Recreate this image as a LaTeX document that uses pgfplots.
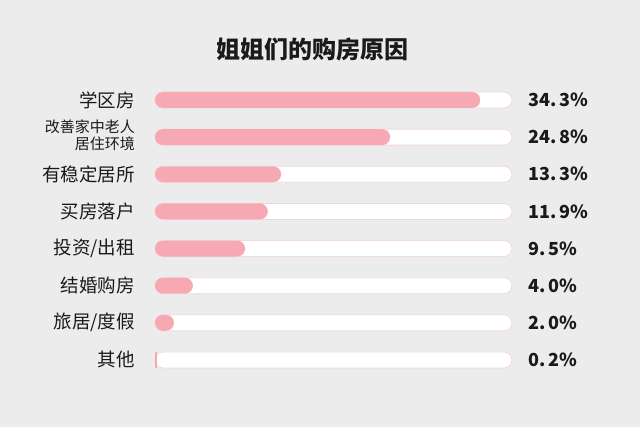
\documentclass[border=0pt]{standalone}
\usepackage{pgfplots}
\pgfplotsset{compat=1.18}
\usepackage{fontspec}
\setmainfont{Noto Sans CJK SC}
\definecolor{bg}{HTML}{EDECEC}
\definecolor{barpink}{HTML}{F6A9B3}
\definecolor{trackedge}{HTML}{F2D8DB}
\definecolor{txt}{HTML}{1A1A1A}
\newcommand{\lab}[1]{\fontsize{18.5}{20}\selectfont #1}
\newcommand{\twolab}{\fontsize{15}{16.5}\selectfont\begin{tabular}{@{}r@{}}改善家中老人\\ 居住环境\end{tabular}}
\begin{document}
\begin{tikzpicture}[x=1pt,y=1pt]
\fill[bg] (0,0) rectangle (640,-427);
\node[font=\fontsize{24}{26}\selectfont\bfseries, text=txt] at (312,-50) {姐姐们的购房原因};
\begin{axis}[
  at={(155pt,-81.43pt)}, anchor=north west,
  scale only axis, width=357pt, height=297.1pt,
  xmin=0, xmax=37.65, ymin=-0.5, ymax=7.5, y dir=reverse,
  axis line style={draw=none}, major tick length=0pt,
  xtick=\empty, ytick={0,1,2,3,4,5,6,7},
  yticklabels={{\lab{学区房}},{\twolab},{\lab{有稳定居所}},{\lab{买房落户}},{\lab{投资/出租}},{\lab{结婚购房}},{\lab{旅居/度假}},{\lab{其他}}},
  yticklabel style={anchor=east, inner sep=0pt, xshift=-20pt, text=txt},
  clip=false,
]
% white tracks
\addplot[xbar, bar shift=0pt, bar width=16pt, fill=white, draw=trackedge, line width=0.8pt, rounded corners=8pt]
  coordinates {(37.65,0) (37.65,1) (37.65,2) (37.65,3) (37.65,4) (37.65,5) (37.65,6) (37.65,7)};
% pink bars
\addplot[xbar, bar shift=0pt, bar width=16pt, fill=barpink, draw=none, rounded corners=8pt]
  coordinates {(34.3,0) (24.8,1) (13.3,2) (11.9,3) (9.5,4) (4.0,5) (2.0,6)};
\addplot[xbar, bar shift=0pt, bar width=16pt, fill=barpink, draw=none]
  coordinates {(0.2,7)};
% value labels
\addplot[draw=none, mark=none, point meta=explicit symbolic,
  nodes near coords={\pgfplotspointmeta\%},
  every node near coord/.append style={anchor=west, inner sep=0pt, text=txt, font=\fontsize{18}{20}\selectfont\bfseries}]
  coordinates {(39.34,0) [34.\kern3pt 3] (39.34,1) [24.\kern3pt 8] (39.34,2) [13.\kern3pt 3] (39.34,3) [11.\kern3pt 9]
    (39.34,4) [9.\kern3pt 5] (39.34,5) [4.\kern3pt 0] (39.34,6) [2.\kern3pt 0] (39.34,7) [0.\kern3pt 2]};
\end{axis}
\end{tikzpicture}
\end{document}
